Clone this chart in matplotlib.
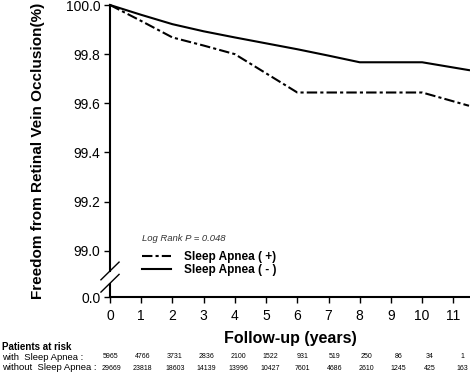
import matplotlib.pyplot as plt
import numpy as np

plt.rcParams['font.family'] = ['Liberation Sans', 'DejaVu Sans']

# follow-up years and freedom from RVO (%)
years = [0, 1, 2, 3, 4, 5, 6, 7, 8, 9, 10, 11.5]
with_apnea = [100.0, 99.935, 99.868, 99.835, 99.800, 99.722, 99.644, 99.644, 99.644, 99.644, 99.644, 99.590]
without_apnea = [100.0, 99.960, 99.922, 99.893, 99.868, 99.844, 99.820, 99.794, 99.767, 99.767, 99.767, 99.735]

year_ticks = list(range(12))
y_ticks = [98.812, 99.0, 99.2, 99.4, 99.6, 99.8, 100.0]
y_tick_labels = ['0.0', '99.0', '99.2', '99.4', '99.6', '99.8', '100.0']

risk_with = [5965, 4766, 3731, 2836, 2100, 1522, 931, 519, 250, 86, 34, 1]
risk_without = ['29669', '23818', '18603', '14139', '13996', '10427', '7601', '4686', '2610', '1245', '425', '163']

W, H = 470, 375
fig = plt.figure(figsize=(W / 100, H / 100), dpi=100)
ax = fig.add_axes([110 / W, 1 - 297 / H, 359 / W, 292 / H])

lw = 1.5
ax.plot(years, with_apnea, color='black', lw=lw, linestyle=(0, (5, 1.5, 1.5, 1.5)),
        label='Sleep Apnea ( +)', clip_on=False)
ax.plot(years, without_apnea, color='black', lw=lw, label='Sleep Apnea ( - )', clip_on=False)

ax.set_xlim(0, 11.5)
ax.set_ylim(98.812, 100.0)
ax.set_xticks(year_ticks)
ax.set_yticks(y_ticks)
ax.set_yticklabels(y_tick_labels)
ax.tick_params(axis='both', direction='out', length=4, width=1, labelsize=10, colors='black')
ax.tick_params(axis='y', pad=3)
ax.tick_params(axis='x', pad=5)

for s in ['top', 'right']:
    ax.spines[s].set_visible(False)
ax.spines['bottom'].set_linewidth(lw)
ax.spines['left'].set_linewidth(lw)

# axis break on the y axis
brk_hi, brk_lo = 98.918, 98.868
ax.spines['left'].set_bounds(brk_hi, 100.0)
ax.plot([0, 0], [98.812, brk_lo], color='black', lw=lw, clip_on=False, solid_capstyle='butt')
dx, dy = 0.29, 0.036
for yc in [brk_hi, brk_lo]:
    ax.plot([-dx, dx], [yc - dy, yc + dy], color='black', lw=1, clip_on=False)

ax.set_ylabel('Freedom from Retinal Vein Occlusion(%)', fontsize=11, fontweight='bold')
ax.yaxis.set_label_coords(-0.181, 0.5)

ax.text(0.089, 0.202, 'Log Rank P = 0.048', transform=ax.transAxes, fontsize=6.8,
        style='italic', va='center', ha='left', color='#333333')
ax.legend(loc='upper left', bbox_to_anchor=(0.089, 0.158), frameon=False,
          prop={'weight': 'bold', 'size': 8.5}, handlelength=2.5, handletextpad=1.1,
          labelspacing=0.1, borderpad=0, borderaxespad=0)

fig.text(290 / W, 1 - 338 / H, 'Follow-up (years)', fontsize=11.5, fontweight='bold',
         ha='center', va='center')

# patients at risk table
fig.text(2 / W, 1 - 347 / H, 'Patients at risk', fontsize=7, fontweight='bold', va='center')
fig.text(2 / W, 1 - 357 / H, 'with  Sleep Apnea :', fontsize=6.8, va='center')
fig.text(2 / W, 1 - 368 / H, 'without  Sleep Apnea :', fontsize=6.8, va='center')
xs = np.linspace(111, 462, len(year_ticks))
for x, a, b in zip(xs, risk_with, risk_without):
    fig.text(x / W, 1 - 357 / H, str(a), fontsize=5, ha='center', va='center')
    fig.text(x / W, 1 - 368 / H, b, fontsize=5, ha='center', va='center')

fig.savefig('out.png', dpi=100)
